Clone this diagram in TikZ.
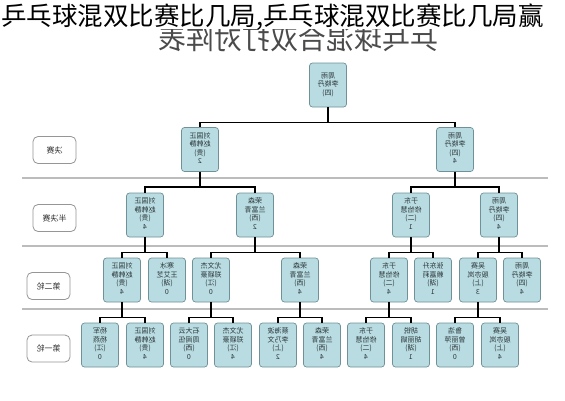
\documentclass[tikz,border=0pt]{standalone}
\usepackage{fontspec}
\usepackage{graphicx}
\setmainfont{Noto Sans CJK SC}
\usetikzlibrary{calc}
\definecolor{nodefill}{RGB}{184,220,225}
\definecolor{nodeedge}{RGB}{112,145,152}
\definecolor{sepgray}{RGB}{188,188,188}
\definecolor{txtgray}{RGB}{45,55,60}
\definecolor{labedge}{RGB}{150,150,150}
\definecolor{titlegray}{RGB}{75,75,75}
\newcommand{\mtxt}[4]{\reflectbox{\begin{tabular}{@{}c@{}}#1\\#2\\#3\\#4\end{tabular}}}
\newcommand{\mlab}[1]{\reflectbox{#1}}
\tikzset{
  team/.style={draw=nodeedge, fill=nodefill, rounded corners=3pt, line width=0.7pt,
    minimum width=37pt, minimum height=44pt, inner sep=0pt, text=txtgray,
    font=\fontsize{7}{8.5}\selectfont},
  lab/.style={draw=labedge, fill=white, rounded corners=5pt, line width=0.8pt,
    minimum width=43pt, minimum height=27pt, inner sep=0pt, text=black!80,
    font=\fontsize{8}{9}\selectfont},
  link/.style={line width=1.3pt, black},
  sepline/.style={line width=1.8pt, sepgray},
}
\begin{document}
\begin{tikzpicture}[x=1pt, y=-1pt]
\useasboundingbox (0,0) rectangle (565,400);
\fill[white] (0,0) rectangle (565,400);
% mirrored grey title, upper part hidden
\begin{scope}
  \clip (0,29) rectangle (565,60);
  \node[text=titlegray, font=\fontsize{28}{28}\selectfont, inner sep=0pt] (ttl) at (298,38.5) {\reflectbox{乒乓球混合双打对阵表}};
\end{scope}
\node[anchor=west, inner sep=0pt, font=\fontsize{25.5}{25.5}\selectfont, text=black] (ovl) at (1,17) {乒乓球混双比赛比几局,乒乓球混双比赛比几局赢};
% separators
\draw[sepline] (22,178) -- (548,178);
\draw[sepline] (22,246) -- (548,246);
\draw[sepline] (22,309) -- (548,309);
% round labels
\node[lab] (L1) at (54.5,150) {\mlab{决赛}};
\node[lab] (L2) at (54.5,218) {\mlab{半决赛}};
\node[lab] (L3) at (48.5,286) {\mlab{第二轮}};
\node[lab] (L4) at (48.5,348.5) {\mlab{第一轮}};
% bracket nodes
\node[team] (root) at (328,85) {\mtxt{周雨}{李晓丹}{(四)}{}};
\node[team] (fL) at (200,149.5) {\mtxt{刘国正}{赵韩静}{(贵)}{2}};
\node[team] (fR) at (455,149.5) {\mtxt{周雨}{李晓丹}{(四)}{4}};
\node[team] (sLL) at (145,215) {\mtxt{刘国正}{赵韩静}{(贵)}{4}};
\node[team] (sLR) at (255,215) {\mtxt{荣森}{兰富青}{(西)}{2}};
\node[team] (sRL) at (411,215) {\mtxt{于东}{修怡慧}{(二)}{1}};
\node[team] (sRR) at (499,215) {\mtxt{周雨}{李晓丹}{(四)}{4}};
\node[team] (A) at (122,280) {\mtxt{刘国正}{赵韩静}{(贵)}{4}};
\node[team] (B) at (167,280) {\mtxt{寒冰}{王艾芝}{(湖)}{0}};
\node[team] (C) at (211,280) {\mtxt{尤文杰}{郑颖豪}{(江)}{0}};
\node[team] (D) at (300,280) {\mtxt{荣森}{兰富青}{(西)}{4}};
\node[team] (E) at (389,280) {\mtxt{于东}{修怡慧}{(二)}{4}};
\node[team] (F) at (433,280) {\mtxt{张东升}{赖嘉莉}{(湖)}{1}};
\node[team] (G) at (478,280) {\mtxt{吴赛}{殷亦岚}{(上)}{3}};
\node[team] (H) at (522,280) {\mtxt{周雨}{李晓丹}{(四)}{4}};
\node[team] (a1) at (100,345) {\mtxt{杨军}{杨燕}{(江)}{0}};
\node[team] (a2) at (145,345) {\mtxt{刘国正}{赵韩静}{(贵)}{4}};
\node[team] (c1) at (189,345) {\mtxt{石大云}{周闻伍}{(西)}{0}};
\node[team] (c2) at (233,345) {\mtxt{尤文杰}{郑颖豪}{(江)}{4}};
\node[team] (d1) at (278,345) {\mtxt{蔡海波}{李乃文}{(上)}{2}};
\node[team] (d2) at (322,345) {\mtxt{荣森}{兰富青}{(西)}{4}};
\node[team] (e1) at (366,345) {\mtxt{于东}{修怡慧}{(二)}{4}};
\node[team] (e2) at (411,345) {\mtxt{胡锐}{胡丽娟}{(湖)}{1}};
\node[team] (g1) at (455,345) {\mtxt{鲁浩}{曾丽萍}{(西)}{0}};
\node[team] (g2) at (500,345) {\mtxt{吴赛}{殷亦岚}{(上)}{4}};
% connectors
\foreach \p/\c in {root/fL, root/fR, fL/sLL, fL/sLR, fR/sRL, fR/sRR,
  sLL/A, sLL/B, sLR/C, sLR/D, sRL/E, sRL/F, sRR/G, sRR/H,
  A/a1, A/a2, C/c1, C/c2, D/d1, D/d2, E/e1, E/e2, G/g1, G/g2}
  \draw[link] (\p.south) -- ++(0,15) -| (\c.north);
\end{tikzpicture}
\end{document}
